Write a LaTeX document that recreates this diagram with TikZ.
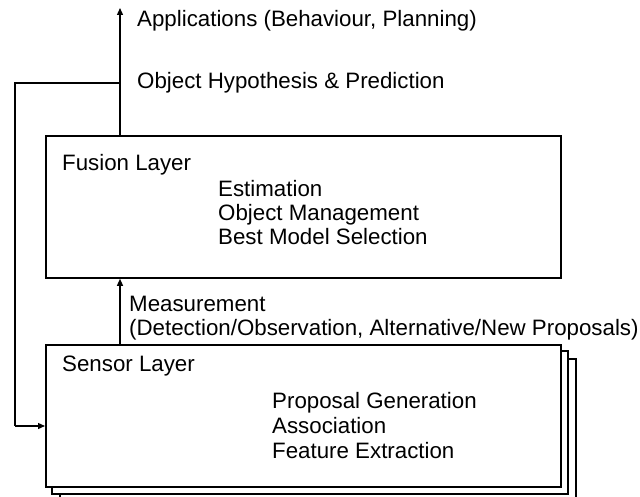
\documentclass[tikz,border=0pt]{standalone}
\usepackage{fontspec}
\setmainfont{Liberation Sans}
\usetikzlibrary{arrows.meta}
\begin{document}
\begin{tikzpicture}[x=1pt,y=-1pt,
  layerbox/.style={draw=black,fill=white,line width=1.8pt},
  link/.style={draw=black,line width=1.3pt,-{Triangle[length=7pt,width=6pt]}},
  line/.style={draw=black,line width=1.3pt},
  txt/.style={anchor=base west,inner sep=0pt,font=\fontsize{22.3}{26}\selectfont}]
\useasboundingbox (0,0) rectangle (640,497);
\clip (0,0) rectangle (640,497);
\fill[white] (0,0) rectangle (640,497);

% stacked sensor layers
\draw[layerbox] (60,359) rectangle (576,509);
\draw[layerbox] (52,351) rectangle (568,494);
\node[layerbox,inner sep=0pt,anchor=north west,
  minimum width=515pt,minimum height=142pt] (sensor) at (45,344) {};

% fusion layer
\node[layerbox,inner sep=0pt,anchor=north west,
  minimum width=515pt,minimum height=142pt] (fusion) at (45,135) {};

% output and feedback
\coordinate (top) at (120,8);
\coordinate (fb1) at (120,83);
\coordinate (fb2) at (15,83);
\coordinate (fb3) at (15,426);
\draw[link] (fusion.north -| top) -- (top);
\draw[line] (fb1) -- (fb2) -- (fb3);
\draw[link] (fb3) -- (sensor.west |- fb3);
\draw[link] (sensor.north -| top) -- (fusion.south -| top);

% labels
\node[txt] (apps) at (137,27) {Applications (Behaviour, Planning)};
\node[txt] (hyp) at (137,89) {Object Hypothesis \& Prediction};
\node[txt] (fl) at (62,171) {Fusion Layer};
\node[txt] (f1) at (218,197) {Estimation};
\node[txt] (f2) at (218,221) {Object Management};
\node[txt] (f3) at (218,245) {Best Model Selection};
\node[txt] (m1) at (129,311) {Measurement};
\node[txt] (m2) at (129,335) {(Detection/Observation, Alternative/New Proposals)};
\node[txt] (sl) at (62,371) {Sensor Layer};
\node[txt] (s1) at (272,408) {Proposal Generation};
\node[txt] (s2) at (272,433) {Association};
\node[txt] (s3) at (272,458) {Feature Extraction};
\end{tikzpicture}
\end{document}
